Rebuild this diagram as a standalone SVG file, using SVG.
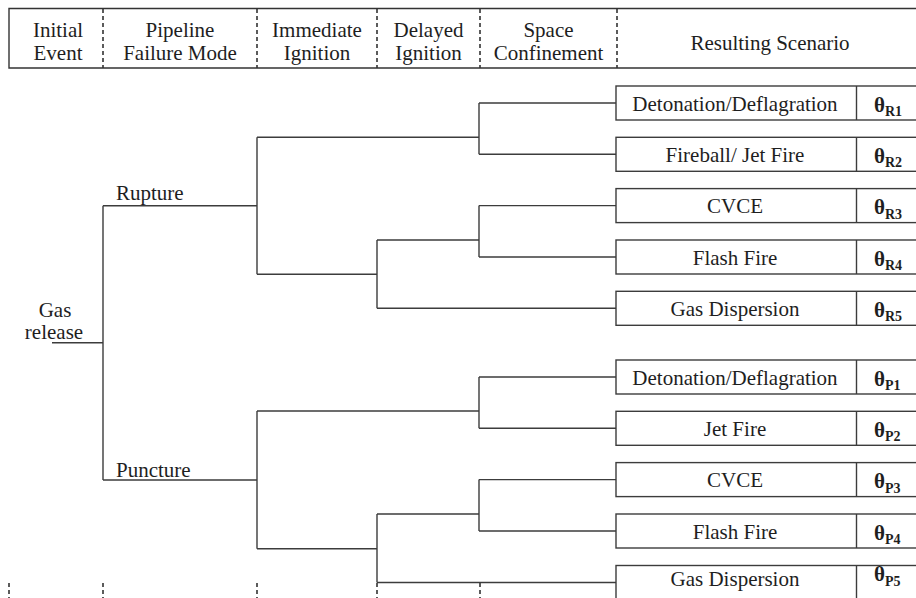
<svg xmlns="http://www.w3.org/2000/svg" width="916" height="598" viewBox="0 0 916 598" font-family="Liberation Serif, DejaVu Serif, serif">
<style>
text{font-family:'Liberation Serif','DejaVu Serif',serif;font-size:21px;fill:#1e1e1e}
.c{text-anchor:middle}
.th{font-weight:bold;font-size:21px}
.sub{font-weight:bold;font-size:14px}
.ln{fill:none;stroke:#3c3c3c;stroke-width:1.4}
.box{fill:#fff;stroke:#3c3c3c;stroke-width:1.4}
.dash{fill:none;stroke:#333;stroke-width:1.6;stroke-dasharray:4 3}
.hd{fill:none;stroke:#333;stroke-width:1.4}
</style>
<rect width="916" height="598" fill="#fff"/>
<g id="header">
<path class="hd" d="M920,8.5H9V68H920"/>
<path class="dash" d="M103,9V68M257,9V68M377,9V68M480,9V68M617,9V68"/>
<text class="c" x="58" y="37">Initial</text>
<text class="c" x="58" y="59.5">Event</text>
<text class="c" x="180" y="37">Pipeline</text>
<text class="c" x="180" y="59.5">Failure Mode</text>
<text class="c" x="317" y="37">Immediate</text>
<text class="c" x="317" y="59.5">Ignition</text>
<text class="c" x="428.5" y="37">Delayed</text>
<text class="c" x="428.5" y="59.5">Ignition</text>
<text class="c" x="548.5" y="37">Space</text>
<text class="c" x="548.5" y="59.5">Confinement</text>
<text class="c" x="770" y="50">Resulting Scenario</text>
</g>
<g id="footer-dashes">
<path class="dash" d="M9,583V598M103,583V598M257,583V598M377,583V598M480,583V598"/>
</g>
<g id="connectors">
<path class="ln" d="M52,342.7H103M103,205.7V480M103,205.7H257M103,480H257"/>
<path class="ln" d="M257,137.3V274.3M257,137.3H479M479,103V154.3M479,103H616M479,154.3H616M257,274.3H377M377,240V308.3M377,240H479M479,205.6V257M479,205.6H616M479,257H616M377,308.3H616"/>
<path class="ln" d="M257,411V548.7M257,411H479M479,377V428.3M479,377H616M479,428.3H616M257,548.7H377M377,514V582.5M377,514H479M479,479.6V531M479,479.6H616M479,531H616M377,582.5H616"/>
</g>
<g id="initial">
<text class="c" x="55" y="316.5">Gas</text>
<text class="c" x="54" y="339">release</text>
</g>
<g id="rupture"><text x="116" y="200">Rupture</text></g>
<g id="puncture"><text x="116" y="477">Puncture</text></g>
<g id="R1"><rect class="box" x="616" y="86" width="310" height="34"/><path class="ln" d="M856.5,86V120"/><text class="c" x="735" y="110.5">Detonation/Deflagration</text><text x="874" y="111.5" class="th">θ<tspan class="sub" dy="4.5">R1</tspan></text></g>
<g id="R2"><rect class="box" x="616" y="137.3" width="310" height="34"/><path class="ln" d="M856.5,137.3V171.3"/><text class="c" x="735" y="161.8">Fireball/ Jet Fire</text><text x="874" y="162.8" class="th">θ<tspan class="sub" dy="4.5">R2</tspan></text></g>
<g id="R3"><rect class="box" x="616" y="188.6" width="310" height="34"/><path class="ln" d="M856.5,188.6V222.6"/><text class="c" x="735" y="213.1">CVCE</text><text x="874" y="214.1" class="th">θ<tspan class="sub" dy="4.5">R3</tspan></text></g>
<g id="R4"><rect class="box" x="616" y="240" width="310" height="34"/><path class="ln" d="M856.5,240V274"/><text class="c" x="735" y="264.5">Flash Fire</text><text x="874" y="265.5" class="th">θ<tspan class="sub" dy="4.5">R4</tspan></text></g>
<g id="R5"><rect class="box" x="616" y="291.3" width="310" height="34"/><path class="ln" d="M856.5,291.3V325.3"/><text class="c" x="735" y="315.8">Gas Dispersion</text><text x="874" y="316.8" class="th">θ<tspan class="sub" dy="4.5">R5</tspan></text></g>
<g id="P1"><rect class="box" x="616" y="360" width="310" height="34"/><path class="ln" d="M856.5,360V394"/><text class="c" x="735" y="384.5">Detonation/Deflagration</text><text x="874" y="385.5" class="th">θ<tspan class="sub" dy="4.5">P1</tspan></text></g>
<g id="P2"><rect class="box" x="616" y="411.3" width="310" height="34"/><path class="ln" d="M856.5,411.3V445.3"/><text class="c" x="735" y="435.8">Jet Fire</text><text x="874" y="436.8" class="th">θ<tspan class="sub" dy="4.5">P2</tspan></text></g>
<g id="P3"><rect class="box" x="616" y="462.6" width="310" height="34"/><path class="ln" d="M856.5,462.6V496.6"/><text class="c" x="735" y="487.1">CVCE</text><text x="874" y="488.1" class="th">θ<tspan class="sub" dy="4.5">P3</tspan></text></g>
<g id="P4"><rect class="box" x="616" y="514" width="310" height="34"/><path class="ln" d="M856.5,514V548"/><text class="c" x="735" y="538.5">Flash Fire</text><text x="874" y="539.5" class="th">θ<tspan class="sub" dy="4.5">P4</tspan></text></g>
<g id="P5"><rect class="box" x="616" y="565.5" width="310" height="40"/><path class="ln" d="M856.5,565.5V605"/><text class="c" x="735" y="586">Gas Dispersion</text><text x="874" y="581" class="th">θ<tspan class="sub" dy="4.5">P5</tspan></text></g>
</svg>
